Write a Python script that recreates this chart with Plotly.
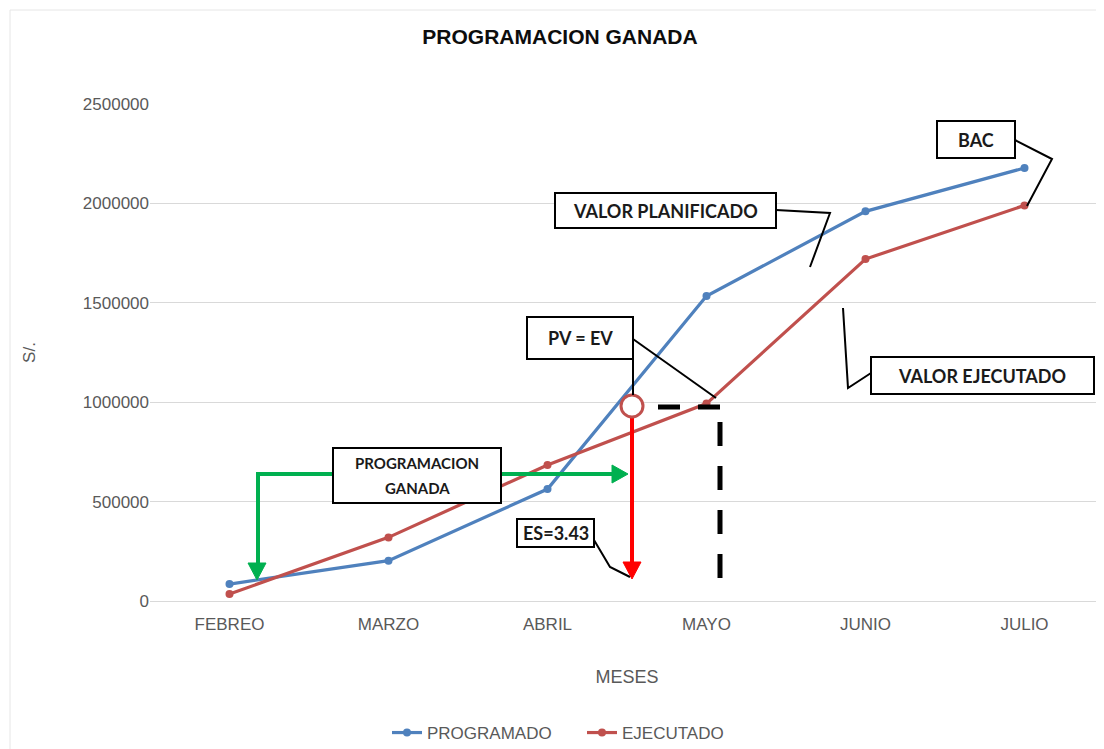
import plotly.graph_objects as go

# ---------------- data ----------------
meses = ["FEBREO", "MARZO", "ABRIL", "MAYO", "JUNIO", "JULIO"]
programado = [85000, 203000, 563000, 1534000, 1960000, 2178000]
ejecutado = [35000, 320000, 684000, 993000, 1720000, 1990000]
y_ticks = [0, 500000, 1000000, 1500000, 2000000, 2500000]

BLUE = "#4F81BD"
RED = "#C0504D"
GREEN = "#00B050"
GRID = "#D9D9D9"
TXT = "#595959"

# page offset of the figure (browser body margin)
OFF = 8
FIG_W, FIG_H = 1104 - OFF, 749 - OFF

# plot-area geometry in page pixels, used to place the annotation layer
L, T, R, B = 150, 104, 1104, 601
W, H = R - L, B - T


def fx(px):
    return (px - L) / W


def fy(py):
    return (B - py) / H


fig = go.Figure()
fig.add_trace(go.Scatter(x=meses, y=programado, name="PROGRAMADO", mode="lines+markers",
                         line=dict(color=BLUE, width=3.2), marker=dict(color=BLUE, size=8)))
fig.add_trace(go.Scatter(x=meses, y=ejecutado, name="EJECUTADO", mode="lines+markers",
                         line=dict(color=RED, width=3.2), marker=dict(color=RED, size=8)))

shapes = []
annotations = []


def line(pts, color="black", width=2, dash=None):
    path = "M " + " L ".join(f"{fx(a)},{fy(b)}" for a, b in pts)
    d = dict(type="path", xref="paper", yref="paper", path=path,
             line=dict(color=color, width=width), layer="above")
    if dash:
        d["line"]["dash"] = dash
    shapes.append(d)


def tri(pts, color):
    path = "M " + " L ".join(f"{fx(a)},{fy(b)}" for a, b in pts) + " Z"
    shapes.append(dict(type="path", xref="paper", yref="paper", path=path,
                       fillcolor=color, line=dict(color=color, width=1), layer="above"))


def box(x0, y0, x1, y1):
    shapes.append(dict(type="rect", xref="paper", yref="paper",
                       x0=fx(x0), x1=fx(x1), y0=fy(y1), y1=fy(y0),
                       fillcolor="white", line=dict(color="black", width=2), layer="above"))


def text(px, py, s, size=18):
    annotations.append(dict(x=fx(px), y=fy(py), xref="paper", yref="paper", text=f"<b>{s}</b>",
                            showarrow=False, xanchor="center", yanchor="middle",
                            font=dict(family="Lato, Carlito, Liberation Sans", size=size, color="#1a1a1a")))


# chart border (light)
shapes.append(dict(type="line", xref="paper", yref="paper", x0=fx(10), x1=fx(1110), y0=fy(10), y1=fy(10),
                   line=dict(color="#E6E6E6", width=1), layer="below"))
shapes.append(dict(type="line", xref="paper", yref="paper", x0=fx(10), x1=fx(10), y0=fy(10), y1=fy(760),
                   line=dict(color="#E6E6E6", width=1), layer="below"))

# green "programacion ganada" arrows
line([(333, 474), (258, 474), (258, 565)], GREEN, 4)
tri([(248, 563), (266, 563), (257, 580)], GREEN)
line([(500, 474), (614, 474)], GREEN, 4)
tri([(612, 465), (612, 483), (628, 474)], GREEN)

# red ES arrow
line([(632, 418), (632, 564)], "#FF0000", 4)
tri([(623, 562), (641, 562), (632, 579)], "#FF0000")

# black dashed lines
line([(658, 407), (720, 407)], "black", 5, "22px,18px")
line([(720, 422), (720, 580)], "black", 5, "24px,20px")

# PV = EV circle
shapes.append(dict(type="circle", xref="paper", yref="paper", xsizemode="pixel", ysizemode="pixel",
                   xanchor=fx(632), yanchor=fy(406), x0=-11, x1=11, y0=-11, y1=11,
                   fillcolor="white", line=dict(color=RED, width=3), layer="above"))

# leader lines
line([(633, 359), (633, 395)], "black", 2)
line([(633, 339), (716, 398)], "black", 2)
line([(776, 210), (830, 213), (810, 267)], "black", 2)
line([(1015, 140), (1052, 159), (1027, 206)], "black", 2)
line([(871, 373), (848, 388), (843, 308)], "black", 2)
line([(594, 540), (610, 567), (630, 577)], "black", 2)

# boxes + texts
box(333, 448, 501, 503)
text(417, 463, "PROGRAMACION", 15)
text(417, 488, "GANADA", 15)
box(527, 317, 633, 359)
text(580, 338, "PV = EV", 18)
box(517, 519, 594, 547)
text(556, 533, "ES=3.43", 18)
box(555, 193, 776, 228)
text(665, 211, "VALOR PLANIFICADO", 18)
box(937, 121, 1015, 158)
text(976, 140, "BAC", 18)
box(871, 357, 1094, 394)
text(982, 376, "VALOR EJECUTADO", 18)

fig.update_layout(
    width=FIG_W, height=FIG_H,
    margin=dict(l=L - OFF, r=FIG_W - (R - OFF), t=T - OFF, b=FIG_H - (B - OFF), autoexpand=False),
    paper_bgcolor="white", plot_bgcolor="white",
    font=dict(family="Liberation Sans, Arial", color=TXT, size=17),
    title=dict(text="<b>PROGRAMACION GANADA</b>", x=(560 - OFF) / FIG_W, xanchor="center", xref="container",
               y=1 - (37 - OFF) / FIG_H, yanchor="middle", yref="container",
               font=dict(family="Liberation Sans, Arial", size=21, color="#0d0d0d")),
    xaxis=dict(type="category", categoryorder="array", categoryarray=meses, range=[-0.5, 5.5],
               showgrid=False, showline=True, linecolor=GRID, linewidth=1, ticks="",
               tickfont=dict(size=17, color=TXT), ticklabelstandoff=8,
               title=dict(text="MESES", font=dict(size=18, color=TXT), standoff=36)),
    yaxis=dict(range=[0, 2500000], tickvals=y_ticks, ticktext=[str(v) for v in y_ticks],
               showgrid=True, gridcolor=GRID, gridwidth=1, zeroline=False, showline=False, ticks="",
               tickfont=dict(size=17, color=TXT),
               title=dict(text="S/.", font=dict(size=17, color=TXT), standoff=42)),
    legend=dict(orientation="h", x=fx(387), xanchor="left", y=fy(733), yanchor="middle",
                entrywidth=150, entrywidthmode="pixels",
                font=dict(size=17, color=TXT), bgcolor="rgba(0,0,0,0)"),
    shapes=shapes,
    annotations=annotations,
)

fig.write_html("out.html", config={"displayModeBar": False})
